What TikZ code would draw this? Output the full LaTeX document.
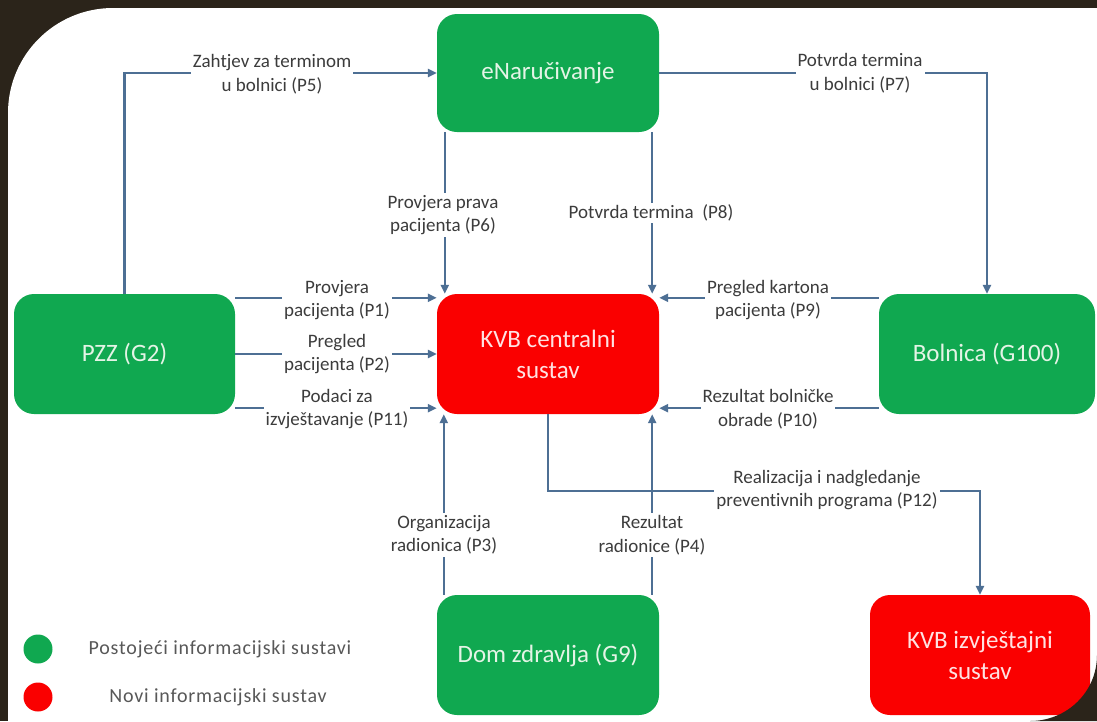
\documentclass[tikz,border=0pt]{standalone}
\usepackage{fontspec}
\setmainfont{Carlito}[Ligatures=NoCommon]
\newfontfamily\legfont[LetterSpace=4,Ligatures=NoCommon]{Carlito}
\usetikzlibrary{arrows.meta}
\definecolor{bgdark}{HTML}{2B241A}
\definecolor{boxgreen}{RGB}{16,168,80}
\definecolor{boxred}{RGB}{250,0,0}
\definecolor{gtext}{HTML}{E4F4E6}
\definecolor{rtext}{HTML}{FFE2E2}
\definecolor{linec}{HTML}{4D6F94}
\definecolor{labtext}{HTML}{3C3C3C}
\definecolor{legtext}{HTML}{585858}
\tikzset{
  sysbox/.style={rounded corners=20pt, minimum width=222pt, minimum height=120pt,
    inner sep=0pt, align=center, font=\fontsize{25}{31}\selectfont},
  greenbox/.style={sysbox, fill=boxgreen, text=gtext},
  redbox/.style={sysbox, fill=boxred, text=rtext},
  conn/.style={draw=linec, line width=2.4pt},
  arr/.style={conn, -{Triangle[length=9pt,width=8pt]}},
  lab/.style={fill=white, inner sep=2pt, align=center, text=labtext,
    font=\fontsize{19}{23.5}\selectfont},
  legdot/.style={circle, inner sep=0pt, minimum size=29pt},
  legtxt/.style={text=legtext, inner sep=0pt, font=\legfont\fontsize{20}{24}\selectfont}
}
\begin{document}
\begin{tikzpicture}[x=1pt,y=-1pt]
\useasboundingbox (0,0) rectangle (1097,721);
% background
\fill[bgdark] (0,0) rectangle (1097,721);
\fill[white] (8,721) -- (8,113) .. controls (8,55) and (55,8) .. (113,8)
  -- (1097,8) -- (1097,721) -- cycle;

% nodes
\node[greenbox, minimum height=118pt] (enar) at (548,73) {eNaručivanje};
\node[redbox] (kvb) at (548,354) {KVB centralni\\sustav};
\node[greenbox, minimum width=221pt] (pzz) at (124.5,354) {PZZ (G2)};
\node[greenbox, minimum width=216pt] (bol) at (987,354) {Bolnica (G100)};
\node[greenbox] (dom) at (548,655) {Dom zdravlja (G9)};
\node[redbox, minimum width=220pt] (izv) at (980,655) {KVB izvještajni\\sustav};

% connectors
\draw[arr] (pzz.north) |- (enar.west);
\draw[arr] (enar.east) -| (bol.north);
\draw[arr] ([xshift=8pt]enar.south west) -- ([xshift=8pt]kvb.north west);
\draw[arr] ([xshift=-7pt]enar.south east) -- ([xshift=-7pt]kvb.north east);
\draw[arr] ([yshift=-4pt]pzz.north east) -- ([yshift=-4pt]kvb.north west);
\draw[arr] (pzz.east) -- (kvb.west);
\draw[arr] ([yshift=6pt]pzz.south east) -- ([yshift=6pt]kvb.south west);
\draw[arr] ([yshift=-4pt]bol.north west) -- ([yshift=-4pt]kvb.north east);
\draw[arr] ([yshift=6pt]bol.south west) -- ([yshift=6pt]kvb.south east);
\draw[arr] ([xshift=7pt]dom.north west) -- ([xshift=7pt]kvb.south west);
\draw[arr] ([xshift=-7pt]dom.north east) -- ([xshift=-7pt]kvb.south east);
\coordinate (c12) at (548,491);
\draw[arr] (kvb.south) -- (c12) -| (izv.north);

% labels
\node[lab] (l5) at (272,74) {Zahtjev za terminom\\u bolnici (P5)};
\node[lab] (l7) at (860,73) {Potvrda termina\\u bolnici (P7)};
\node[lab] (l6) at (443,215) {Provjera prava\\pacijenta (P6)};
\node[lab] (l8) at (651,213) {Potvrda termina\ \ (P8)};
\node[lab] (l1) at (337,300) {Provjera\\pacijenta (P1)};
\node[lab] (l2) at (337,354) {Pregled\\pacijenta (P2)};
\node[lab] (l11) at (337,409) {Podaci za\\izvještavanje (P11)};
\node[lab] (l9) at (768,300) {Pregled kartona\\pacijenta (P9)};
\node[lab] (l10) at (768,409) {Rezultat bolničke\\obrade (P10)};
\node[lab] (l3) at (444,535) {Organizacija\\radionica (P3)};
\node[lab] (l4) at (652,535) {Rezultat\\radionice (P4)};
\node[lab] (l12) at (827,490) {Realizacija i nadgledanje\\preventivnih programa (P12)};

% legend
\node[legdot, fill=boxgreen] (dg) at (38,649) {};
\node[legdot, fill=boxred] (dr) at (38,697) {};
\node[legtxt] (tg) at (220,649) {Postojeći informacijski sustavi};
\node[legtxt] (tr) at (218,697) {Novi informacijski sustav};

% dark bottom-right corner of the frame, over the boxes
\fill[bgdark] (1097,655) .. controls (1097,692) and (1067,721) .. (1030,721)
  -- (1097,721) -- cycle;
\end{tikzpicture}
\end{document}
